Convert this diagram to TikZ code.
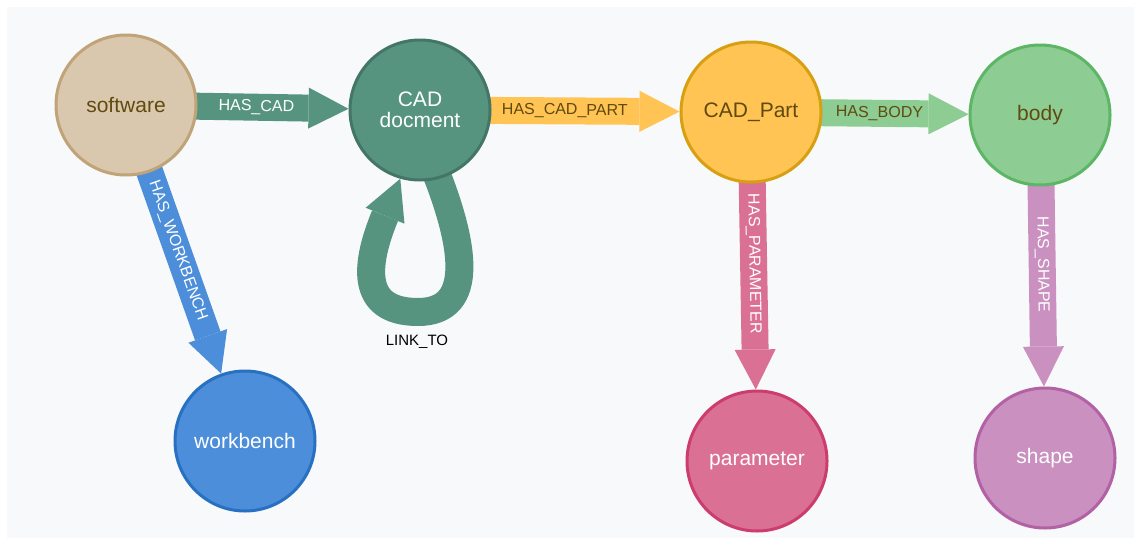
\documentclass[tikz,border=0pt]{standalone}
\usepackage{fontspec}
\setmainfont{Liberation Sans}
\usetikzlibrary{arrows.meta}

\definecolor{panel}{HTML}{F8F9FB}
\definecolor{tanfill}{HTML}{D9C8AE}\definecolor{tanline}{HTML}{C0A378}
\definecolor{teal}{HTML}{569480}\definecolor{tealline}{HTML}{447666}
\definecolor{amber}{HTML}{FFC454}\definecolor{amberline}{HTML}{D7A013}
\definecolor{mint}{HTML}{8DCC93}\definecolor{mintline}{HTML}{5DB665}
\definecolor{azure}{HTML}{4C8EDA}\definecolor{azureline}{HTML}{2870C2}
\definecolor{rose}{HTML}{DA7194}\definecolor{roseline}{HTML}{CC3C6C}
\definecolor{orchid}{HTML}{C990C0}\definecolor{orchidline}{HTML}{B261A5}
\definecolor{darktext}{HTML}{604A0E}

\pgfdeclarelayer{bg}
\pgfdeclarelayer{edges}
\pgfsetlayers{bg,edges,main}

\begin{document}
\begin{tikzpicture}[x=1pt,y=-1pt,
  entity/.style={circle, minimum size=140pt, line width=3pt, inner sep=0pt,
    font=\fontsize{21}{21}\selectfont, align=center},
  rel/.style={line width=27pt, shorten <=-4pt,
    -{Triangle[length=40pt,width=41pt,line width=0pt]}},
  rellabel/.style={font=\fontsize{16}{16}\selectfont, sloped, pos=0.39, inner sep=0pt}
]
% canvas
\begin{pgfonlayer}{bg}
\fill[white] (0,0) rectangle (1134,538);
\fill[panel] (7,7) rectangle (1134,538);
\end{pgfonlayer}
\useasboundingbox (0,0) rectangle (1134,538);

% entities
\node[entity, fill=tanfill, draw=tanline, text=darktext] (software) at (126,105) {software};
\node[entity, fill=teal, draw=tealline, text=white] (cad) at (420,110) {CAD\\docment};
\node[entity, fill=amber, draw=amberline, text=darktext] (part) at (751,112) {CAD\_Part};
\node[entity, fill=mint, draw=mintline, text=darktext] (body) at (1040,115) {body};
\node[entity, fill=azure, draw=azureline, text=white] (workbench) at (245,441) {workbench};
\node[entity, fill=rose, draw=roseline, text=white] (parameter) at (757,461) {parameter};
\node[entity, fill=orchid, draw=orchidline, text=white] (shape) at (1045,458) {shape};

% relationships
\begin{pgfonlayer}{edges}
\draw[rel, teal] (software) -- (cad)
  node[rellabel, text=white] {HAS\_CAD};
\draw[rel, amber] (cad) -- (part)
  node[rellabel, text=darktext] {HAS\_CAD\_PART};
\draw[rel, mint] (part) -- (body)
  node[rellabel, text=darktext] {HAS\_BODY};
\draw[rel, azure] (software) -- (workbench)
  node[rellabel, text=white] {HAS\_WORKBENCH};
\draw[rel, rose] (part) -- (parameter)
  node[rellabel, text=white] {HAS\_PARAMETER};
\draw[rel, orchid] (body) -- (shape)
  node[rellabel, text=white] {HAS\_SHAPE};
% self loop on the CAD document
\draw[teal, line width=28pt, shorten <=-4pt,
      -{Triangle[length=40pt,width=42pt,line width=0pt]}]
  (cad.-75) .. controls (462,240) and (478,312) .. (418,312)
  .. controls (358,312) and (366,262) .. (cad.-106);
\end{pgfonlayer}
\node[font=\fontsize{15}{16}\selectfont, text=black] (linkto) at (417,342) {LINK\_TO};
\end{tikzpicture}
\end{document}
